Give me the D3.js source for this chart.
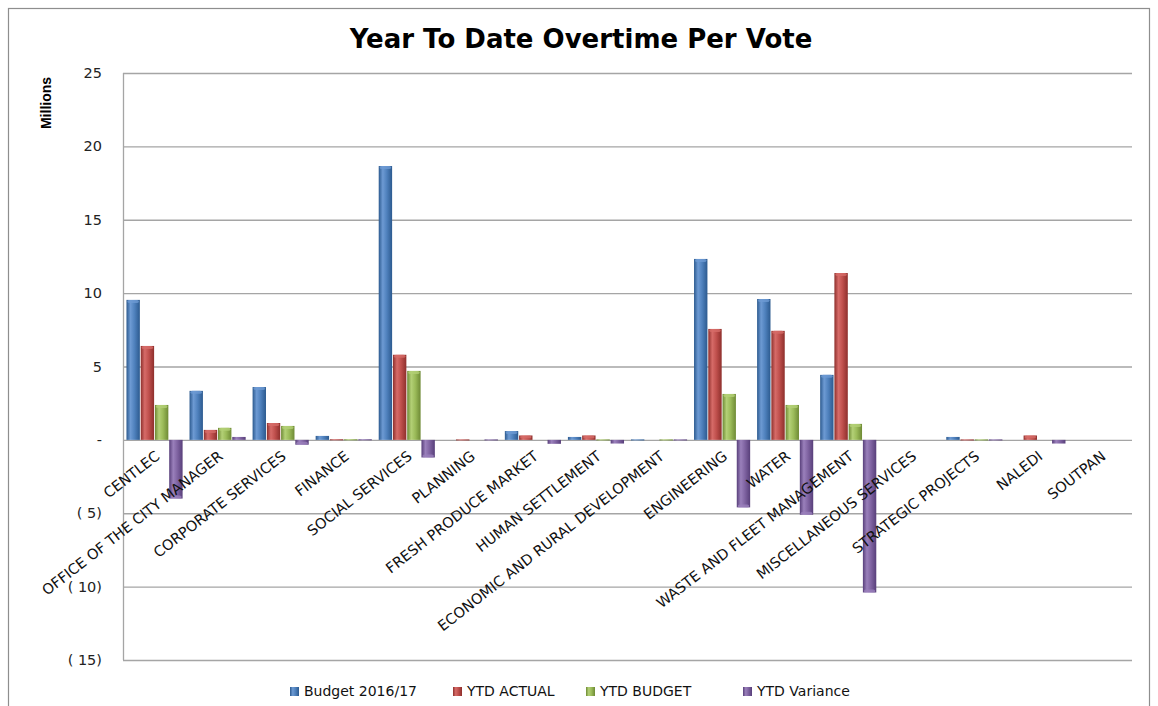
<!DOCTYPE html>
<html>
<head>
<meta charset="utf-8">
<script src="https://cdn.jsdelivr.net/npm/d3@7"></script>
<style>
  body { margin: 0; background: #fff; }
  svg { display: block; font-family: "DejaVu Sans", sans-serif; }
</style>
</head>
<body>
<svg id="chart" width="1158" height="706"></svg>
<script>
// data, millions
const categories = ["CENTLEC", "OFFICE OF THE CITY MANAGER", "CORPORATE SERVICES", "FINANCE",
  "SOCIAL SERVICES", "PLANNING", "FRESH PRODUCE MARKET", "HUMAN SETTLEMENT",
  "ECONOMIC AND RURAL DEVELOPMENT", "ENGINEERING", "WATER", "WASTE AND FLEET MANAGEMENT",
  "MISCELLANEOUS SERVICES", "STRATEGIC PROJECTS", "NALEDI", "SOUTPAN"];
const seriesNames = ["Budget 2016/17", "YTD ACTUAL", "YTD BUDGET", "YTD Variance"];
const budget   = [9.54, 3.34, 3.6, 0.27, 18.66, 0, 0.6, 0.2, 0.03, 12.33, 9.6, 4.43, 0, 0.2, 0, 0];
const actual   = [6.4, 0.68, 1.15, 0.04, 5.8, 0.03, 0.3, 0.3, 0, 7.56, 7.43, 11.37, 0, 0.03, 0.3, 0];
const ytdBudget = [2.38, 0.82, 0.95, 0.04, 4.7, 0, 0, 0.03, 0.03, 3.13, 2.38, 1.09, 0, 0.03, 0, 0];
const variance = [-4.0, 0.2, -0.33, 0.04, -1.2, 0.03, -0.27, -0.25, 0.03, -4.6, -5.1, -10.4, 0, 0.03, -0.25, 0];
const yTicks = [25, 20, 15, 10, 5, 0, -5, -10, -15];

const colors = ["#4f81bd", "#c0504d", "#9bbb59", "#8064a2"];
const darks  = ["#2c5a8f", "#8e2f2c", "#6e8a35", "#583f7a"];
const lights = ["#6d9ad3", "#d66b68", "#b3d076", "#9a80bb"];

const seriesValues = [budget, actual, ytdBudget, variance];

const svg = d3.select("#chart");
const margin = {left: 123, top: 73, right: 1132, bottom: 660};

// outer frame
svg.append("rect")
  .attr("x", 8.5).attr("y", 8.5).attr("width", 1141).attr("height", 720)
  .attr("fill", "none").attr("stroke", "#8e8e8e").attr("stroke-width", 1.2);

var defs = svg.append("defs");
colors.forEach(function(c, i) {
  var g = defs.append("linearGradient").attr("id", "grad" + i)
    .attr("x1", "0%").attr("x2", "100%").attr("y1", "0%").attr("y2", "0%");
  g.append("stop").attr("offset", "0%").attr("stop-color", darks[i]);
  g.append("stop").attr("offset", "30%").attr("stop-color", lights[i]);
  g.append("stop").attr("offset", "60%").attr("stop-color", c);
  g.append("stop").attr("offset", "100%").attr("stop-color", darks[i]);
});

const y = d3.scaleLinear().domain([-15, 25]).range([margin.bottom, margin.top]);
const x0 = d3.scaleBand().domain(categories).range([margin.left, margin.right])
  .paddingInner(0.11).paddingOuter(0.055);
const x1 = d3.scaleBand().domain(d3.range(4)).range([0, x0.bandwidth()]).paddingInner(0.06);

// gridlines
svg.append("g").selectAll("line").data(yTicks).enter().append("line")
  .attr("x1", margin.left).attr("x2", margin.right)
  .attr("y1", function(d) { return y(d) + 0.5; }).attr("y2", function(d) { return y(d) + 0.5; })
  .attr("stroke", "#a5a5a5").attr("stroke-width", 1.3);
svg.append("line")
  .attr("x1", margin.left + 0.5).attr("x2", margin.left + 0.5)
  .attr("y1", margin.top).attr("y2", margin.bottom)
  .attr("stroke", "#a5a5a5").attr("stroke-width", 1.3);

// y tick labels
const fmt = function(d) {
  if (d === 0) return "-";
  if (d < 0) return "( " + (-d) + ")";
  return d;
};
svg.append("g").selectAll("text").data(yTicks).enter().append("text")
  .attr("x", 102).attr("y", function(d) { return y(d); })
  .attr("dy", "0.35em").attr("text-anchor", "end")
  .attr("font-size", 14.5).attr("fill", "#222")
  .text(fmt);

svg.append("text")
  .attr("transform", "translate(51,103) rotate(-90)")
  .attr("text-anchor", "middle")
  .attr("font-family", "'Liberation Sans Narrow', 'Liberation Sans', sans-serif")
  .attr("font-weight", "bold").attr("font-size", 14)
  .text("Millions");

// bars
const groups = svg.append("g").selectAll("g").data(categories).enter().append("g")
  .attr("transform", function(d) { return "translate(" + x0(d) + ",0)"; });

groups.each(function(cat, ci) {
  var g = d3.select(this);
  seriesValues.forEach(function(vals, si) {
    var v = vals[ci];
    if (v === 0) return;
    var top = y(Math.max(v, 0)), bot = y(Math.min(v, 0));
    var h = Math.max(bot - top, 1);
    g.append("rect")
      .attr("x", x1(si)).attr("y", top)
      .attr("width", x1.bandwidth()).attr("height", h)
      .attr("fill", "url(#grad" + si + ")");
    if (h > 4) {
      // light cap at the bar end
      g.append("rect")
        .attr("x", x1(si) + 1).attr("y", v > 0 ? top : bot - 3)
        .attr("width", x1.bandwidth() - 2).attr("height", 3)
        .attr("rx", 2)
        .attr("fill", lights[si]).attr("opacity", 0.8);
    }
  });
});

// category labels
svg.append("g").selectAll("text").data(categories).enter().append("text")
  .attr("transform", function(d) {
    return "translate(" + (x0(d) + x0.bandwidth() / 2) + ",450) rotate(-38)";
  })
  .attr("text-anchor", "end").attr("dy", "0.7em")
  .attr("font-size", 14.5).attr("fill", "#111")
  .text(function(d) { return d; });

// title
svg.append("text")
  .attr("x", 581).attr("y", 48)
  .attr("text-anchor", "middle")
  .attr("font-weight", "bold").attr("font-size", 26)
  .text("Year To Date Overtime Per Vote");

// legend
const legendX = [290, 453, 586, 743];
const legend = svg.append("g").selectAll("g").data(seriesNames).enter().append("g")
  .attr("transform", function(d, i) { return "translate(" + legendX[i] + ",687)"; });
legend.append("rect")
  .attr("width", 9).attr("height", 9)
  .attr("fill", function(d, i) { return "url(#grad" + i + ")"; });
legend.append("text")
  .attr("x", 14).attr("y", 4.5).attr("dy", "0.35em")
  .attr("font-size", 14).attr("fill", "#111")
  .text(function(d) { return d; });
</script>
</body>
</html>
